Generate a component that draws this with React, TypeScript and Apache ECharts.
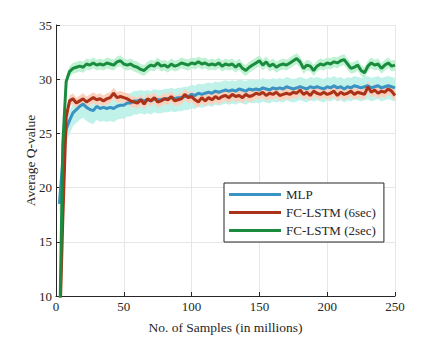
import React, { useEffect, useRef } from "react";
import * as echarts from "echarts";

const samples: number[] = [
  2.5, 5, 7.5, 10, 12.5, 15, 17.5, 20, 22.5, 25, 27.5, 30, 32.5, 35, 37.5, 40, 42.5, 45, 47.5, 50,
  52.5, 55, 57.5, 60, 62.5, 65, 67.5, 70, 72.5, 75, 77.5, 80, 82.5, 85, 87.5, 90, 92.5, 95, 97.5, 100,
  102.5, 105, 107.5, 110, 112.5, 115, 117.5, 120, 122.5, 125, 127.5, 130, 132.5, 135, 137.5, 140, 142.5, 145, 147.5, 150,
  152.5, 155, 157.5, 160, 162.5, 165, 167.5, 170, 172.5, 175, 177.5, 180, 182.5, 185, 187.5, 190, 192.5, 195, 197.5, 200,
  202.5, 205, 207.5, 210, 212.5, 215, 217.5, 220, 222.5, 225, 227.5, 230, 232.5, 235, 237.5, 240, 242.5, 245, 247.5, 250,
];

const mlp: number[] = [
  18.5, 22.5, 25.4, 26.2, 26.9, 27.2, 27.5, 27.7, 27.4, 27.2, 27.1, 27.5, 27.3, 27.4, 27.3, 27.4, 27.3, 27.5, 27.6, 27.6,
  27.8, 27.8, 28.0, 28.0, 28.1, 28.0, 28.1, 28.0, 28.2, 28.1, 28.1, 28.2, 28.2, 28.3, 28.2, 28.3, 28.3, 28.4, 28.4, 28.6,
  28.5, 28.7, 28.6, 28.7, 28.8, 28.7, 28.9, 28.8, 28.9, 29.0, 28.9, 29.0, 28.9, 29.1, 29.0, 28.9, 29.1, 29.0, 29.1, 29.0,
  29.2, 29.1, 29.0, 29.2, 29.1, 29.2, 29.1, 29.3, 29.2, 29.1, 29.2, 29.3, 29.2, 29.1, 29.3, 29.2, 29.3, 29.2, 29.1, 29.3,
  29.2, 29.4, 29.2, 29.3, 29.1, 29.3, 29.2, 29.4, 29.3, 29.2, 29.3, 29.4, 29.2, 29.3, 29.4, 29.2, 29.3, 29.4, 29.3, 29.2,
];

const lstm6: number[] = [
  6.0, 17.0, 26.5, 28.0, 28.2, 27.8, 28.0, 28.2, 27.9, 28.1, 28.3, 28.1, 28.2, 28.0, 28.2, 28.3, 28.7, 28.3, 28.4, 28.3,
  28.2, 28.0, 27.9, 27.8, 28.1, 27.7, 28.2, 28.0, 28.3, 27.9, 28.0, 28.2, 28.1, 28.4, 28.0, 28.1, 28.2, 28.6, 28.3, 28.4,
  28.1, 27.9, 28.3, 28.0, 28.3, 28.1, 28.4, 28.2, 28.4, 28.5, 28.3, 28.6, 28.4, 28.5, 28.3, 28.6, 28.4, 28.5, 28.7, 28.6,
  28.8, 28.5, 28.7, 28.6, 28.8, 28.5, 28.6, 28.7, 28.6, 28.8, 28.7, 29.0, 28.6, 28.8, 28.5, 28.9, 28.7, 28.6, 28.8, 28.6,
  28.7, 28.9, 28.5, 28.8, 28.6, 28.7, 28.9, 28.6, 28.8, 28.7, 28.6, 29.3, 28.8, 29.0, 28.7, 28.9, 28.8, 29.1, 28.9, 28.5,
];

const lstm2: number[] = [
  5.0, 24.0, 29.8, 30.7, 31.0, 31.1, 31.2, 31.1, 31.4, 31.3, 31.5, 31.3, 31.4, 31.3, 31.5, 31.4, 31.3, 31.6, 31.7, 31.4,
  31.3, 31.4, 31.2, 31.1, 30.9, 30.8, 31.1, 31.3, 31.2, 31.5, 31.2, 31.3, 31.1, 31.4, 31.2, 31.3, 31.5, 31.4, 31.3, 31.5,
  31.4, 31.6, 31.4, 31.5, 31.3, 31.4, 31.3, 31.5, 31.2, 31.4, 31.3, 31.4, 31.1, 31.4, 31.0, 30.8, 31.1, 31.3, 31.5, 31.7,
  31.3, 31.6, 31.2, 31.4, 31.1, 31.3, 31.4, 31.3, 31.5, 31.7, 31.9, 31.6, 31.0, 31.3, 31.2, 30.8, 31.2, 31.4, 31.3, 31.5,
  31.4, 31.6, 31.5, 31.7, 31.8, 31.4, 31.0, 31.1, 31.3, 30.8, 30.6, 31.2, 31.5, 31.3, 31.4, 31.0, 31.3, 31.5, 31.2, 31.3,
];

const seriesNames: string[] = ["MLP", "FC-LSTM (6sec)", "FC-LSTM (2sec)"];
const bandBelow: number[] = [1.25, 0.5, 0.5];
const bandAbove: number[] = [0.9, 0.5, 0.5];

const xTicks = { min: 0, max: 250, interval: 50 };
const yTicks = { min: 10, max: 35, interval: 5 };

const FONT = "Tinos, 'Liberation Serif', 'DejaVu Serif', serif";
const lineColors = ["#3a93c3", "#a93219", "#1b8c3e"];
const bandColors = ["#c0f2ea", "#fbd0bd", "#bff2d3"];

function band(ys: number[], below: number, above: number, color: string) {
  return {
    type: "custom",
    silent: true,
    clip: true,
    data: samples.map((x, i) => [x, ys[i]]),
    encode: { x: 0, y: 1 },
    renderItem: (params: any, api: any) => {
      if (params.dataIndex !== 0) return null;
      const upper = samples.map((x, i) => api.coord([x, ys[i] + above]));
      const lower = samples.map((x, i) => api.coord([x, ys[i] - below])).reverse();
      const cs = params.coordSys;
      return {
        type: "polygon",
        shape: { points: upper.concat(lower) },
        style: { fill: color },
        clipPath: { type: "rect", shape: { x: cs.x, y: cs.y, width: cs.width, height: cs.height } },
      };
    },
  };
}

function line(name: string, ys: number[], color: string) {
  return {
    type: "line",
    name,
    data: samples.map((x, i) => [x, ys[i]]),
    showSymbol: false,
    clip: true,
    lineStyle: { color, width: 3 },
    itemStyle: { color },
  };
}

export default function App() {
  const ref = useRef<HTMLDivElement>(null);
  useEffect(() => {
    const chart = echarts.init(ref.current!, null, { renderer: "svg" });
    const all = [mlp, lstm6, lstm2];
    const series: any[] = [];
    all.forEach((ys, k) => {
      series.push(band(ys, bandBelow[k], bandAbove[k], bandColors[k]));
      series.push(line(seriesNames[k], ys, lineColors[k]));
    });
    const labelStyle = { fontFamily: FONT, fontSize: 13, color: "#262626" };
    const nameStyle = { fontFamily: FONT, fontSize: 13.5, color: "#262626" };
    chart.setOption({
      animation: false,
      backgroundColor: "#ffffff",
      textStyle: { fontFamily: FONT },
      grid: { left: 56, right: 41, top: 25, bottom: 38 },
      xAxis: {
        type: "value",
        ...xTicks,
        name: "No. of Samples (in millions)",
        nameLocation: "middle",
        nameGap: 24,
        nameMoveOverlap: false,
        nameTextStyle: nameStyle,
        axisLine: { show: true, onZero: false, lineStyle: { color: "#262626", width: 1 } },
        axisTick: { show: true, inside: true, length: 4, lineStyle: { color: "#262626" } },
        axisLabel: { ...labelStyle, margin: 4 },
        splitLine: { show: true, lineStyle: { color: "#e6e6e6", width: 1 } },
      },
      yAxis: {
        type: "value",
        ...yTicks,
        name: "Average Q-value",
        nameLocation: "middle",
        nameGap: 19,
        nameMoveOverlap: false,
        nameTextStyle: nameStyle,
        axisLine: { show: true, lineStyle: { color: "#262626", width: 1 } },
        axisTick: { show: true, inside: true, length: 4, lineStyle: { color: "#262626" } },
        axisLabel: { ...labelStyle, margin: 4 },
        splitLine: { show: true, lineStyle: { color: "#e6e6e6", width: 1 } },
      },
      legend: {
        data: seriesNames,
        orient: "vertical",
        left: 224,
        top: 183,
        icon: "rect",
        itemWidth: 52,
        itemHeight: 3,
        itemGap: 3,
        padding: [4, 8, 4, 5],
        backgroundColor: "#ffffff",
        borderColor: "#262626",
        borderWidth: 1,
        textStyle: { ...labelStyle, lineHeight: 15 },
      },
      series,
    });
    return () => chart.dispose();
  }, []);
  return <div ref={ref} style={{ position: "fixed", left: 0, top: 0, width: 436, height: 339 }} />;
}
